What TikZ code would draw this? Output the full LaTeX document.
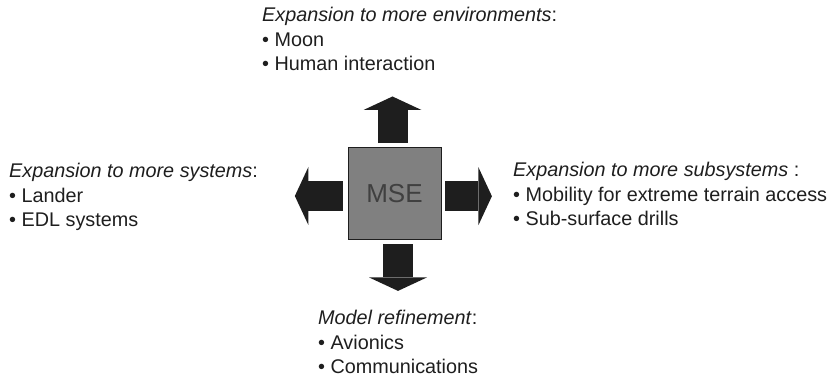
\documentclass[tikz,border=0pt]{standalone}
\usepackage{fontspec}
\setmainfont{Liberation Sans}
\usetikzlibrary{arrows.meta, positioning}
\definecolor{BoxGray}{HTML}{808080}
\definecolor{InkDark}{HTML}{1E1E1E}

\begin{document}
\begin{tikzpicture}[x=1pt, y=-1pt,
    core/.style={draw=InkDark, fill=BoxGray, minimum width=93.5pt, minimum height=92pt, inner sep=0pt, font=\fontsize{26}{30}\selectfont, text=InkDark!85},
    bigarrow/.style={InkDark, line width=30pt, -{Triangle[length=13.5pt 0 1, width=58pt 0 1, line width=0pt 0 0]}},
    topic/.style={align=left, inner sep=0pt, anchor=base west, font=\fontsize{19.8}{24.5}\selectfont, text=InkDark}
]
\useasboundingbox (0,0) rectangle (836,379);

% Centre box
\node[core] (mse) at (394.5,193.3) {MSE};

% Block arrows out of the box
\draw[bigarrow] ([xshift=-2pt, yshift=4pt]mse.north) -- ++(0,-46.6);
\draw[bigarrow] ([xshift=3.5pt, yshift=-4.7pt]mse.south) -- ++(0,46.7);
\draw[bigarrow] ([xshift=-5pt, yshift=-2.7pt]mse.west) -- ++(-47.7,0);
\draw[bigarrow] ([xshift=3.75pt, yshift=-2.9pt]mse.east) -- ++(46.7,0);

% Text blocks (anchored at the last line)
\node[topic] (envs) at (262,71) {\textit{Expansion to more environments}:\\
    \textbullet\ Moon\\
    \textbullet\ Human interaction};
\node[topic] (systems) at (9,227) {\textit{Expansion to more systems}:\\
    \textbullet\ Lander\\
    \textbullet\ EDL systems};
\node[topic] (subsys) at (513,226) {\textit{Expansion to more subsystems} :\\
    \textbullet\ Mobility for extreme terrain access\\
    \textbullet\ Sub-surface drills};
\node[topic] (refine) at (318,374) {\textit{Model refinement}:\\
    \textbullet\ Avionics\\
    \textbullet\ Communications};
\end{tikzpicture}
\end{document}
